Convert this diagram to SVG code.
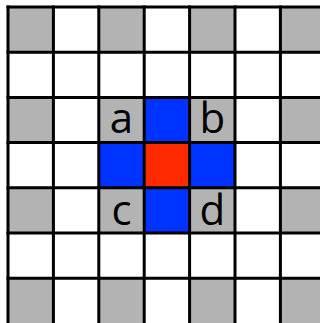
<svg xmlns="http://www.w3.org/2000/svg" width="320" height="323" viewBox="0 0 320 323">
<style>
.g{fill:#b3b3b3}
.b{fill:#0033ff}
.r{fill:#ff2a00}
.l{stroke:#000;stroke-width:3;fill:none}
.t{font-family:"Open Sans","Liberation Sans",sans-serif;font-size:42px;fill:#000;text-anchor:middle}
</style>
<rect width="320" height="323" fill="#fff"/>
<g id="cells">
<rect class="g" x="8" y="7" width="45.4" height="45.2"/>
<rect class="g" x="98.8" y="7" width="45.4" height="45.2"/>
<rect class="g" x="189.6" y="7" width="45.4" height="45.2"/>
<rect class="g" x="280.4" y="7" width="45.4" height="45.2"/>
<rect class="g" x="8" y="97.4" width="45.4" height="45.2"/>
<rect class="g" x="98.8" y="97.4" width="45.4" height="45.2"/>
<rect class="b" x="144.2" y="97.4" width="45.4" height="45.2"/>
<rect class="g" x="189.6" y="97.4" width="45.4" height="45.2"/>
<rect class="g" x="280.4" y="97.4" width="45.4" height="45.2"/>
<rect class="b" x="98.8" y="142.6" width="45.4" height="45.2"/>
<rect class="r" x="144.2" y="142.6" width="45.4" height="45.2"/>
<rect class="b" x="189.6" y="142.6" width="45.4" height="45.2"/>
<rect class="g" x="8" y="187.8" width="45.4" height="45.2"/>
<rect class="g" x="98.8" y="187.8" width="45.4" height="45.2"/>
<rect class="b" x="144.2" y="187.8" width="45.4" height="45.2"/>
<rect class="g" x="189.6" y="187.8" width="45.4" height="45.2"/>
<rect class="g" x="280.4" y="187.8" width="45.4" height="45.2"/>
<rect class="g" x="8" y="278.2" width="45.4" height="45.2"/>
<rect class="g" x="98.8" y="278.2" width="45.4" height="45.2"/>
<rect class="g" x="189.6" y="278.2" width="45.4" height="45.2"/>
<rect class="g" x="280.4" y="278.2" width="45.4" height="45.2"/>
</g>
<g id="gridlines" class="l">
<path d="M8 5.5V323M53.4 5.5V323M98.8 5.5V323M144.2 5.5V323M189.6 5.5V323M235 5.5V323M280.4 5.5V323"/>
<path d="M6.5 7H320M6.5 52.2H320M6.5 97.4H320M6.5 142.6H320M6.5 187.8H320M6.5 233H320M6.5 278.2H320"/>
</g>
<g id="labels">
<text class="t" x="121.5" y="133">a</text>
<text class="t" x="212.3" y="133">b</text>
<text class="t" x="121.5" y="224.5">c</text>
<text class="t" x="212.3" y="224.5">d</text>
</g>
</svg>
